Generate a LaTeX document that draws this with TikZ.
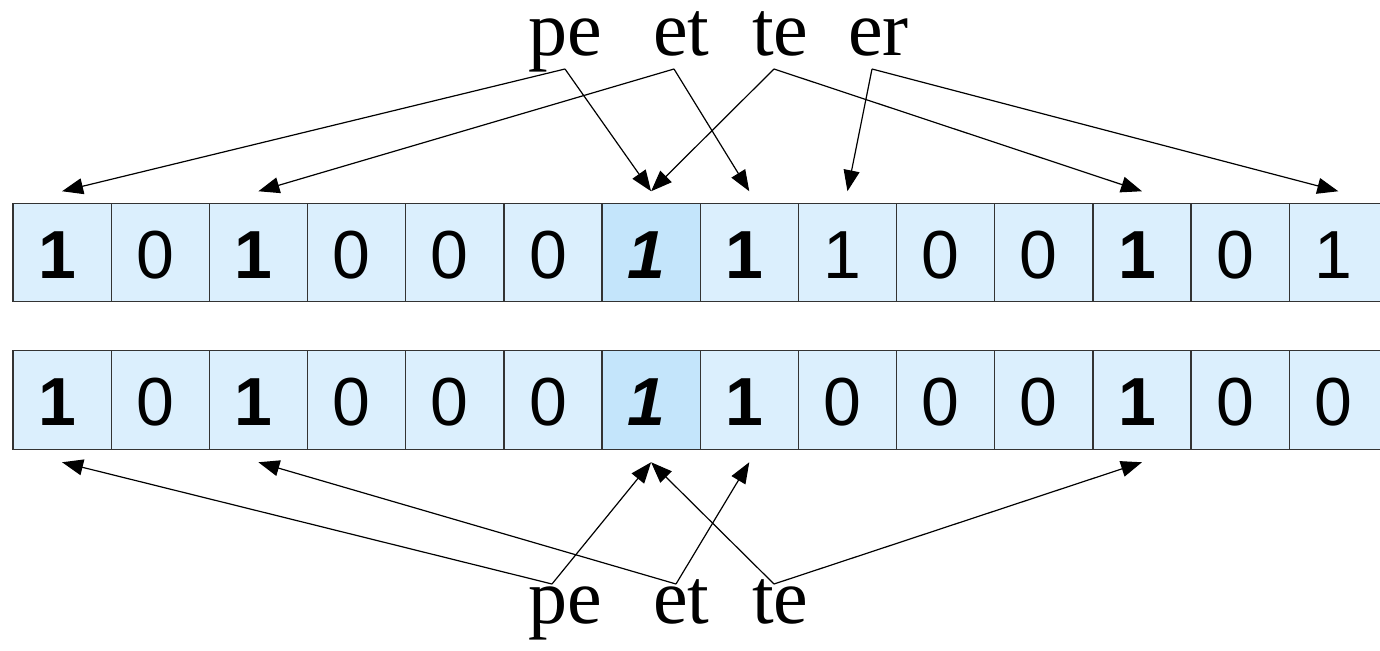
\documentclass[tikz,border=0pt]{standalone}
\usepackage{fontspec}
\setmainfont{Liberation Serif}
\setsansfont{Liberation Sans}
\usetikzlibrary{arrows.meta}
\definecolor{cellfill}{HTML}{DBEFFD}
\definecolor{cellhot}{HTML}{C4E5FB}
\definecolor{cellline}{HTML}{333333}
\begin{document}
\begin{tikzpicture}[x=1pt,y=-1pt]
\tikzset{
  cell/.style={draw=cellline, line width=1.3pt, minimum width=98.17pt,
               minimum height=98.5pt, inner sep=0pt, outer sep=0pt},
  digit/.style={font=\sffamily\fontsize{68}{68}\selectfont, inner sep=0pt, anchor=base},
  word/.style={font=\fontsize{78}{78}\selectfont, inner sep=0pt, anchor=base west},
  link/.style={line width=1.2pt, -{Triangle[length=21pt,width=16pt]}},
}
\useasboundingbox (0,0) rectangle (1380,650);

% upper register
\foreach \i/\t/\f in {0/{\bfseries 1}/cellfill, 1/0/cellfill, 2/{\bfseries 1}/cellfill,
    3/0/cellfill, 4/0/cellfill, 5/0/cellfill, 6/{\bfseries\itshape 1}/cellhot,
    7/{\bfseries 1}/cellfill, 8/1/cellfill, 9/0/cellfill, 10/0/cellfill,
    11/{\bfseries 1}/cellfill, 12/0/cellfill, 13/1/cellfill} {
  \node[cell, fill=\f] (a-\i) at ({13+(\i+0.5)*98.17}, 252.5) {};
  \node[digit] (da-\i) at ({13+(\i+0.5)*98.17-5}, 278) {\t};
}

% lower register
\foreach \i/\t/\f in {0/{\bfseries 1}/cellfill, 1/0/cellfill, 2/{\bfseries 1}/cellfill,
    3/0/cellfill, 4/0/cellfill, 5/0/cellfill, 6/{\bfseries\itshape 1}/cellhot,
    7/{\bfseries 1}/cellfill, 8/0/cellfill, 9/0/cellfill, 10/0/cellfill,
    11/{\bfseries 1}/cellfill, 12/0/cellfill, 13/0/cellfill} {
  \node[cell, fill=\f] (b-\i) at ({13+(\i+0.5)*98.17}, 400) {};
  \node[digit] (db-\i) at ({13+(\i+0.5)*98.17-5}, 425) {\t};
}

% words above
\node[word] (wpe) at (528,56) {pe};
\node[word] (wet) at (653,56) {et};
\node[word] (wte) at (752,56) {te};
\node[word] (wer) at (848,56) {er};
\coordinate (spe) at (565,69);
\coordinate (set) at (674,69);
\coordinate (ste) at (774,69);
\coordinate (ser) at (872,69);

% words below
\node[word] (vpe) at (528,623) {pe};
\node[word] (vet) at (653,623) {et};
\node[word] (vte) at (752,623) {te};
\coordinate (tpe) at (552,584);
\coordinate (tet) at (676,584);
\coordinate (tte) at (774,584);

% links to the upper register
\draw[link] (spe) -- ([yshift=12pt]a-0.north);
\draw[link] (spe) -- ([yshift=12pt]a-6.north);
\draw[link] (set) -- ([yshift=12pt]a-2.north);
\draw[link] (set) -- ([yshift=12pt]a-7.north);
\draw[link] (ste) -- ([yshift=12pt]a-6.north);
\draw[link] (ste) -- ([yshift=12pt]a-11.north);
\draw[link] (ser) -- ([yshift=12pt]a-8.north);
\draw[link] (ser) -- ([yshift=12pt]a-13.north);

% links to the lower register
\draw[link] (tpe) -- ([yshift=-13pt]b-0.south);
\draw[link] (tpe) -- ([yshift=-13pt]b-6.south);
\draw[link] (tet) -- ([yshift=-13pt]b-2.south);
\draw[link] (tet) -- ([yshift=-13pt]b-7.south);
\draw[link] (tte) -- ([yshift=-13pt]b-6.south);
\draw[link] (tte) -- ([yshift=-13pt]b-11.south);
\end{tikzpicture}
\end{document}
